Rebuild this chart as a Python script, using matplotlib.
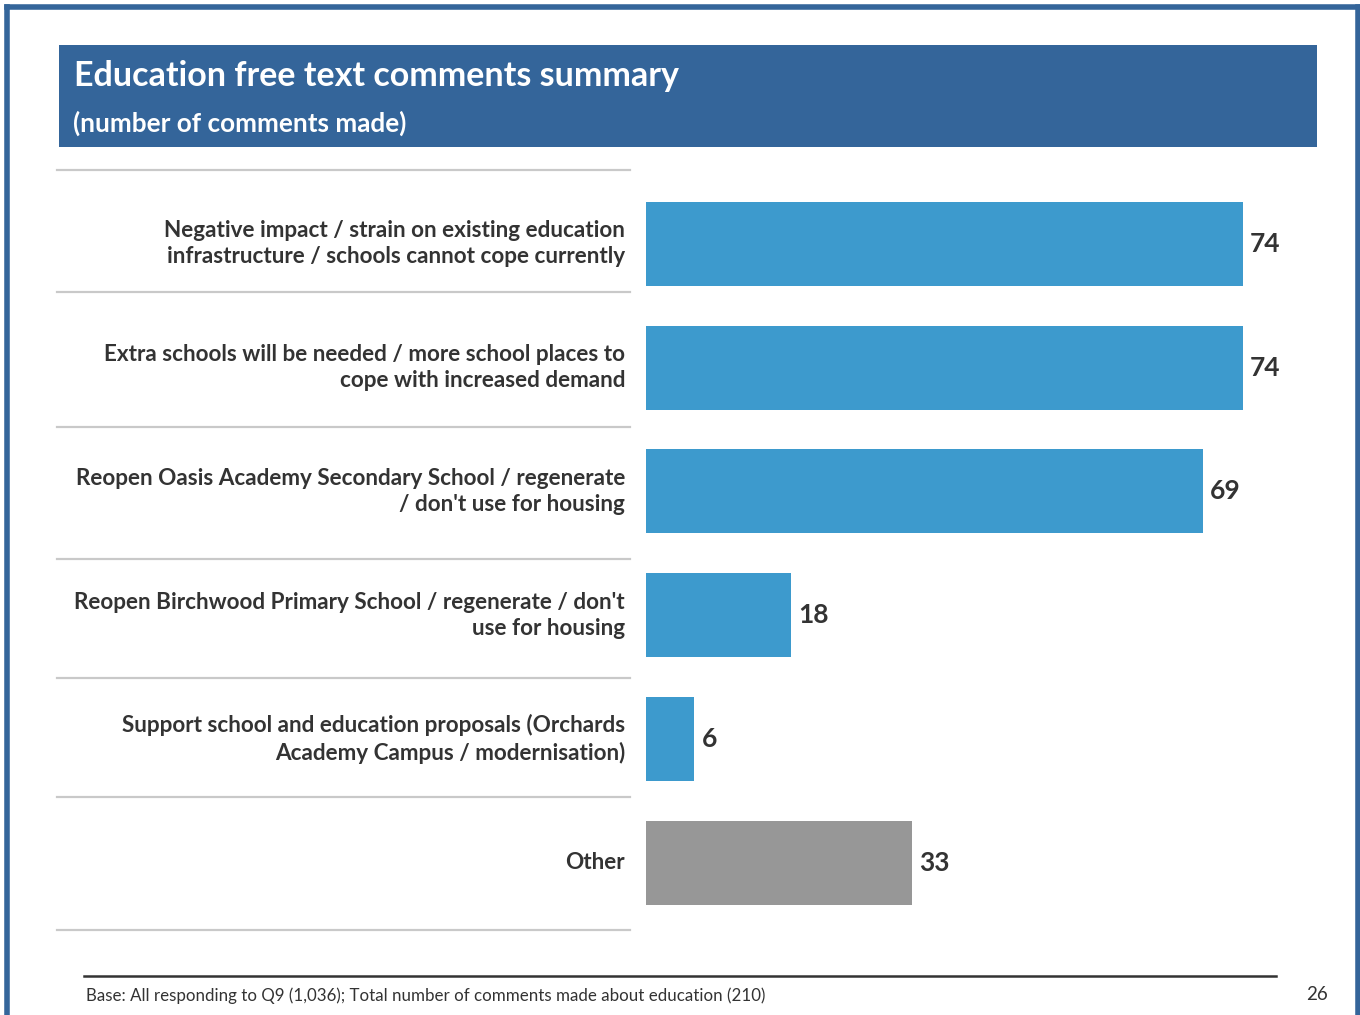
import matplotlib
matplotlib.use("Agg")
import matplotlib.pyplot as plt
from matplotlib.patches import Rectangle
from matplotlib.lines import Line2D

plt.rcParams['font.family'] = ['Lato', 'DejaVu Sans']

# data
categories = [
    "Negative impact / strain on existing education\ninfrastructure / schools cannot cope currently",
    "Extra schools will be needed / more school places to\ncope with increased demand",
    "Reopen Oasis Academy Secondary School / regenerate\n/ don't use for housing",
    "Reopen Birchwood Primary School / regenerate / don't\nuse for housing",
    "Support school and education proposals (Orchards\nAcademy Campus / modernisation)",
    "Other",
]
counts = [74, 74, 69, 18, 6, 33]
bar_colors = ['#3d9acd', '#3d9acd', '#3d9acd', '#3d9acd', '#3d9acd', '#979797']

title = "Education free text comments summary"
subtitle = "(number of comments made)"
footnote = "Base: All responding to Q9 (1,036); Total number of comments made about education (210)"
page_no = "26"

W, H = 1360, 1015
fig = plt.figure(figsize=(W / 100, H / 100), dpi=100)

def fx(px):
    return px / W

def fy(py):
    return 1 - py / H

# outer blue frame (bottom edge runs off the page)
blue = '#34659a'
fig.add_artist(Line2D([fx(6.5), fx(6.5)], [fy(1020), fy(6.5)], color=blue, lw=4, transform=fig.transFigure))
fig.add_artist(Line2D([fx(6.5), fx(1357.5)], [fy(6.5), fy(6.5)], color=blue, lw=4, transform=fig.transFigure))
fig.add_artist(Line2D([fx(1357.5), fx(1357.5)], [fy(6.5), fy(1020)], color=blue, lw=4, transform=fig.transFigure))

# title banner
fig.add_artist(Rectangle((fx(59), fy(147)), fx(1317) - fx(59), fy(45) - fy(147),
                         facecolor=blue, edgecolor='none', transform=fig.transFigure))
fig.text(fx(74), fy(76), title, color='white', fontsize=24.5, fontweight='bold', va='center', ha='left')
fig.text(fx(73), fy(123), subtitle, color='white', fontsize=18.8, fontweight='bold', va='center', ha='left')

# bars
ax = fig.add_axes([fx(646), fy(924.5), fx(1320) - fx(646), fy(182) - fy(924.5)])
scale = (1243 - 646) / 74
ax.set_xlim(0, (1320 - 646) / scale)
ypos = list(range(len(counts)))
ax.barh(ypos, counts, height=0.68, color=bar_colors)
ax.set_ylim(len(counts) - 0.5, -0.5)
ax.axis('off')
for y, v in zip(ypos, counts):
    ax.annotate(str(v), (v, y), xytext=(7, 0), textcoords='offset pixels',
                va='center', ha='left', fontsize=19, fontweight='bold', color='#333333')

# category labels, right aligned next to the bars
for y, lab in zip(ypos, categories):
    ax.annotate(lab, (0, y), xytext=(-21, 0), textcoords='offset pixels',
                va='center', ha='right', fontsize=16.2, fontweight='bold',
                color='#333333', linespacing=1.3, annotation_clip=False)

# grey separators in label column
for py in [170, 292, 427, 559, 678, 797, 930]:
    fig.add_artist(Line2D([fx(57), fx(630)], [fy(py), fy(py)], color='#c9c9c9', lw=1.6,
                          transform=fig.transFigure))

# footer
fig.add_artist(Line2D([fx(84), fx(1276)], [fy(975.5), fy(975.5)], color='#333333', lw=1.8,
                      transform=fig.transFigure))
fig.text(fx(86), fy(996), footnote, fontsize=12.15, color='#333333', va='center', ha='left')
fig.text(fx(1328), fy(994), page_no, fontsize=13.5, color='#333333', va='center', ha='right')

fig.savefig('out.png', dpi=100)
